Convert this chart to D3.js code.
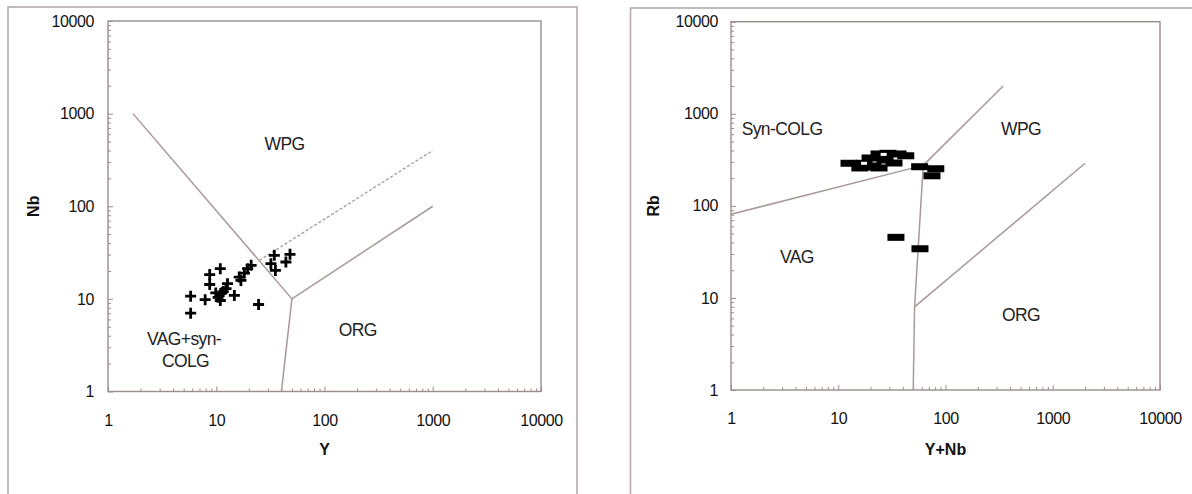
<!DOCTYPE html>
<html><head><meta charset="utf-8">
<script src="https://cdn.jsdelivr.net/npm/d3@7"></script>
<style>
body{margin:0;background:#fff}
svg{display:block}
text{font-family:"Liberation Sans",Arial,Helvetica,sans-serif}
</style>
</head><body>
<svg id="chart" width="1192" height="494"></svg>
<script>
// ---------- data ----------
const majorTicks = [1, 10, 100, 1000, 10000];
const tickLabels = ["1", "10", "100", "1000", "10000"];

// Left: Y vs Nb (crosses)
const leftY  = [5.8, 5.8, 7.9, 8.7, 8.7, 10.9, 9.9, 11.0, 10.9, 12.7, 12.3, 14.7, 16.3, 16.9, 18.2, 19.5, 21.0, 24.6, 32.0, 34.4, 35.2, 44.0, 48.0, 10.4, 11.6];
const leftNb = [10.7, 7.0, 9.8, 18.3, 14.3, 21.2, 11.6, 11.4, 9.6, 14.6, 12.9, 10.9, 17.2, 15.8, 19.0, 21.2, 23.0, 8.7, 24.0, 29.5, 20.3, 25.0, 30.3, 10.4, 12.0];

// Left boundaries
const leftSolid = [
  [[1.7, 1000], [50, 10]],
  [[40, 1], [50, 10]],
  [[50, 10], [1000, 100]]
];
const leftDashed = [[25, 26], [1000, 400]];

// Right: (Y+Nb) vs Rb (bars)
const rightYNb = [12.6, 17.4, 17.4, 21.1, 24.0, 24.0, 29.1, 33.1, 36.1, 42.6, 19.8, 27.3, 15.9, 57.4, 81.2, 74.8, 34.5, 57.8];
const rightRb  = [290, 290, 264, 271, 366, 258, 372, 292, 366, 350, 331, 315, 258, 266, 253, 212, 45.5, 34.2];
const rightOpenYNb = [17.4, 26.5];
const rightOpenRb  = [290, 362];

// Right boundaries
const rightSolid = [
  [[1, 81], [62, 275]],
  [[62, 275], [345, 2000]],
  [[50, 1], [51.5, 8], [62, 275]],
  [[51.5, 8], [2000, 290]]
];

// Field labels
const leftFieldText = ["WPG", "ORG", "VAG+syn-", "COLG"];
const leftFieldX = [42.8, 203, 5.04, 5.2];
const leftFieldY = [471, 4.6, 3.69, 2.13];
const rightFieldText = ["Syn-COLG", "WPG", "VAG", "ORG"];
const rightFieldX = [2.99, 506, 4.12, 506];
const rightFieldY = [683, 683, 28, 6.5];

// ---------- drawing ----------
const svg = d3.select("#chart");
const lineColor = "#a89a98";
const axisColor = "#9a8d8c";
const frameColor = "#b5abab";
const textColor = "#111";

const minorTicks = [];
[1, 10, 100, 1000].forEach(d => { for (let k = 2; k <= 9; k++) minorTicks.push(d * k); });

function panel(cfg) {
  svg.append("rect").attr("x", cfg.frame[0]).attr("y", cfg.frame[1])
    .attr("width", cfg.frame[2]).attr("height", cfg.frame[3])
    .attr("fill", "none").attr("stroke", frameColor).attr("stroke-width", 1.6);

  const x = d3.scaleLog().domain([1, 10000]).range(cfg.xr);
  const y = d3.scaleLog().domain([1, 10000]).range(cfg.yr);
  const g = svg.append("g");

  g.append("rect").attr("x", cfg.xr[0]).attr("y", cfg.yr[1])
    .attr("width", cfg.xr[1] - cfg.xr[0]).attr("height", cfg.yr[0] - cfg.yr[1])
    .attr("fill", "none").attr("stroke", axisColor).attr("stroke-width", 1.4);

  const fmt = d => tickLabels[majorTicks.indexOf(d)];
  const xMinor = g.append("g").attr("transform", `translate(0,${cfg.yr[0]})`)
    .call(d3.axisBottom(x).tickValues(minorTicks).tickSize(-3).tickFormat(""));
  const xMajor = g.append("g").attr("transform", `translate(0,${cfg.yr[0]})`)
    .call(d3.axisBottom(x).tickValues(majorTicks).tickSize(-5).tickPadding(23).tickFormat(fmt));
  const yMinor = g.append("g").attr("transform", `translate(${cfg.xr[0]},0)`)
    .call(d3.axisLeft(y).tickValues(minorTicks).tickSize(-3).tickFormat(""));
  const yMajor = g.append("g").attr("transform", `translate(${cfg.xr[0]},0)`)
    .call(d3.axisLeft(y).tickValues(majorTicks).tickSize(-5).tickPadding(cfg.yPad).tickFormat(fmt));
  [xMinor, xMajor, yMinor, yMajor].forEach(a => {
    a.select(".domain").remove();
    a.selectAll(".tick line").attr("stroke", axisColor).attr("stroke-width", 1);
    a.selectAll(".tick text").attr("fill", textColor).style("font-size", "16px")
      .style("letter-spacing", "-0.4px")
      .style("font-family", '"Liberation Sans",Arial,sans-serif');
  });

  g.append("text").attr("x", (cfg.xr[0] + cfg.xr[1]) / 2).attr("y", cfg.xTitleY)
    .attr("text-anchor", "middle").attr("font-weight", "bold").attr("font-size", 16)
    .attr("fill", textColor).text(cfg.xTitle);
  g.append("text").attr("transform", `translate(${cfg.yTitleX},${(cfg.yr[0] + cfg.yr[1]) / 2}) rotate(-90)`)
    .attr("text-anchor", "middle").attr("font-weight", "bold").attr("font-size", 16)
    .attr("fill", textColor).text(cfg.yTitle);

  const line = d3.line().x(d => x(d[0])).y(d => y(d[1]));
  return { g, x, y, line };
}

// ----- left panel -----
const L = panel({
  frame: [8, 7, 569, 520], xr: [108, 541], yr: [391.5, 21], yPad: 14,
  xTitle: "Y", xTitleY: 455, yTitle: "Nb", yTitleX: 39
});
leftSolid.forEach(seg => L.g.append("path").attr("d", L.line(seg))
  .attr("fill", "none").attr("stroke", lineColor).attr("stroke-width", 1.5));
L.g.append("path").attr("d", L.line(leftDashed)).attr("fill", "none")
  .attr("stroke", lineColor).attr("stroke-width", 1.3).attr("stroke-dasharray", "3,2");
L.g.selectAll("text.field").data(leftFieldText).enter().append("text").attr("class", "field")
  .attr("x", (d, i) => L.x(leftFieldX[i])).attr("y", (d, i) => L.y(leftFieldY[i]))
  .attr("dy", "0.36em").attr("text-anchor", "middle").attr("font-size", 17.5)
  .attr("letter-spacing", "-0.6px")
  .attr("fill", "#222").text(d => d);
const cs = 5.5;
L.g.selectAll("path.cross").data(leftY.map((v, i) => [v, leftNb[i]])).enter()
  .append("path").attr("class", "cross")
  .attr("d", d => {
    const px = L.x(d[0]), py = L.y(d[1]);
    return `M${px - cs},${py}H${px + cs}M${px},${py - cs}V${py + cs}`;
  })
  .attr("stroke", "#000").attr("stroke-width", 2.8).attr("fill", "none");

// ----- right panel -----
const R = panel({
  frame: [630.5, 8, 600, 520], xr: [731, 1160], yr: [390, 21.7], yPad: 13,
  xTitle: "Y+Nb", xTitleY: 455, yTitle: "Rb", yTitleX: 659
});
rightSolid.forEach(seg => R.g.append("path").attr("d", R.line(seg))
  .attr("fill", "none").attr("stroke", lineColor).attr("stroke-width", 1.5));
R.g.selectAll("text.field").data(rightFieldText).enter().append("text").attr("class", "field")
  .attr("x", (d, i) => R.x(rightFieldX[i])).attr("y", (d, i) => R.y(rightFieldY[i]))
  .attr("dy", "0.36em").attr("text-anchor", "middle").attr("font-size", 17.5)
  .attr("letter-spacing", "-0.6px")
  .attr("fill", "#222").text(d => d);
const bw = 17, bh = 7;
R.g.selectAll("rect.bar").data(rightYNb.map((v, i) => [v, rightRb[i]])).enter()
  .append("rect").attr("class", "bar")
  .attr("x", d => R.x(d[0]) - bw / 2).attr("y", d => R.y(d[1]) - bh / 2)
  .attr("width", bw).attr("height", bh).attr("fill", "#000");
R.g.selectAll("rect.open").data(rightOpenYNb.map((v, i) => [v, rightOpenRb[i]])).enter()
  .append("rect").attr("class", "open")
  .attr("x", d => R.x(d[0]) - 3).attr("y", d => R.y(d[1]) - 1.5)
  .attr("width", 6).attr("height", 3).attr("fill", "#fff");
</script>
</body></html>
